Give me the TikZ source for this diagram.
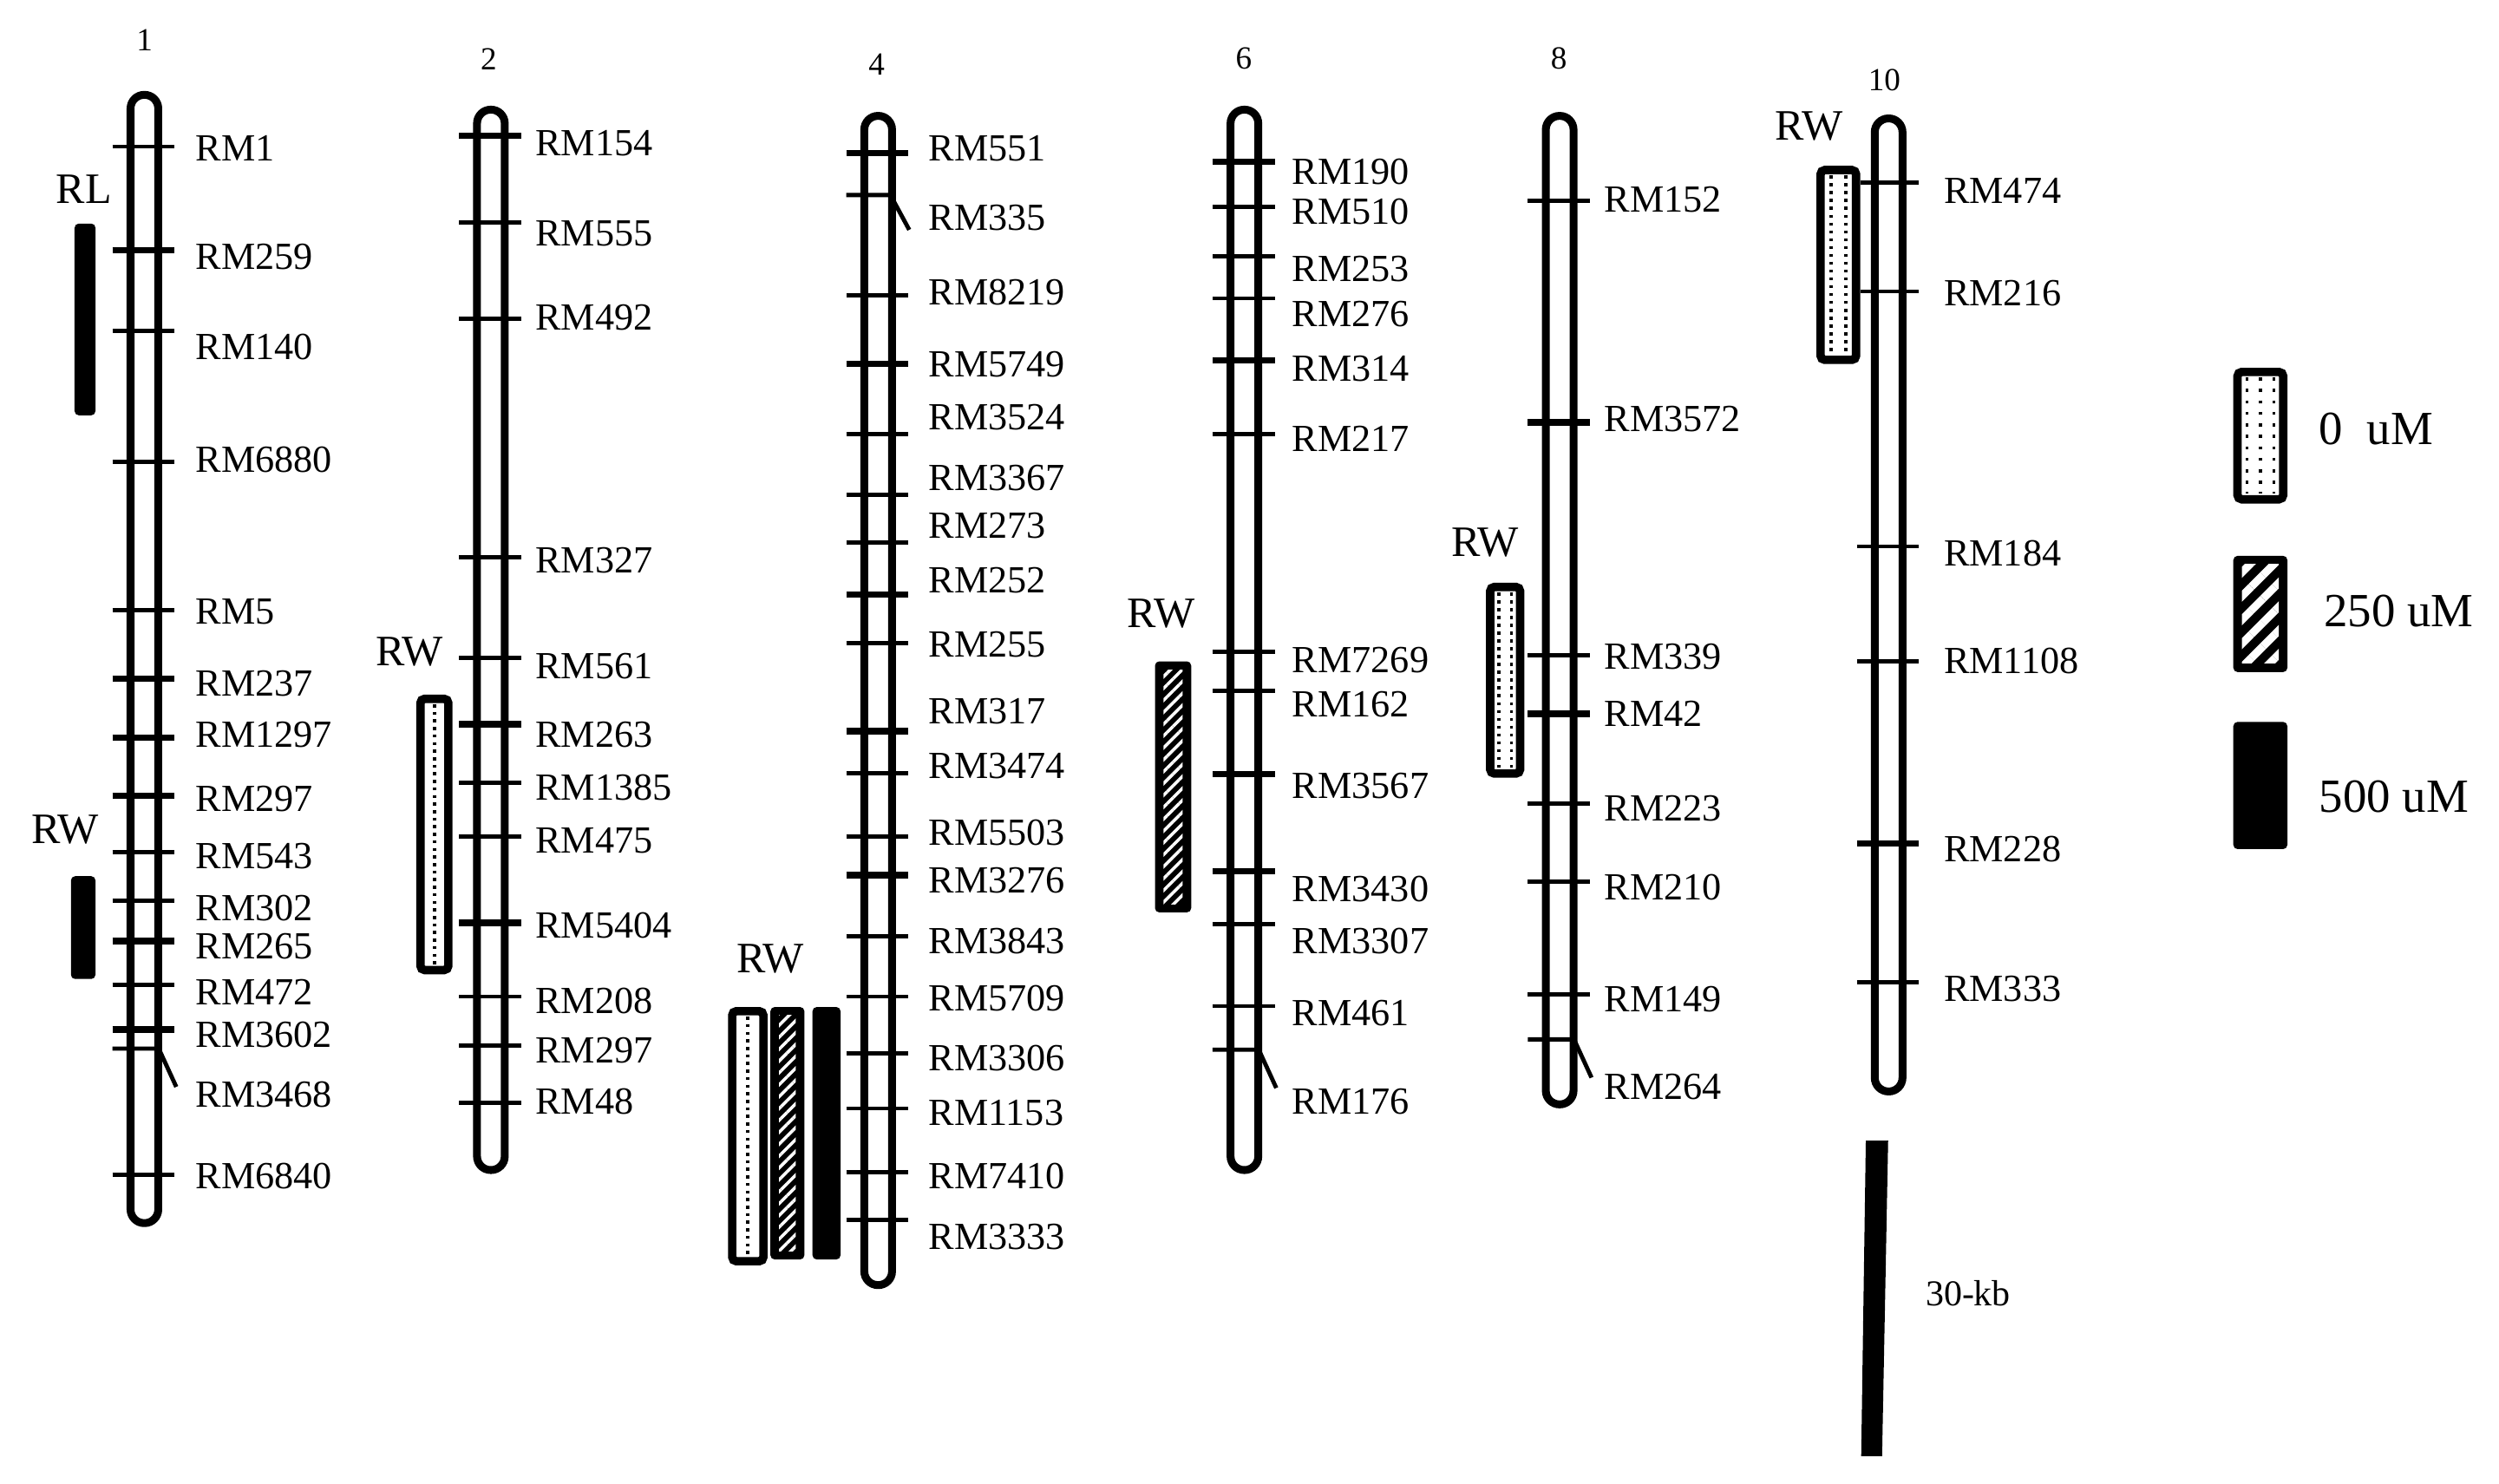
\documentclass[tikz,border=0pt]{standalone}
\usepackage{fontspec}
\setmainfont{Liberation Serif}
\usetikzlibrary{patterns.meta}

\tikzset{
	chrom/.style={line width=2.8pt,rounded corners=4.9pt},
	mtick/.style={line width=1.5pt},
	bigtick/.style={line width=2.3pt},
	mlabel/.style={anchor=west,inner sep=0pt,font=\fontsize{13.7}{14}\selectfont},
	chrnum/.style={inner sep=0pt,font=\fontsize{11.5}{12}\selectfont},
	qtl/.style={inner sep=0pt,font=\fontsize{15.5}{16}\selectfont},
	legtext/.style={anchor=west,inner sep=0pt,font=\fontsize{17}{18}\selectfont},
	boxline/.style={line width=3pt,rounded corners=1.5pt},
}

\newcommand{\chrbody}[3]{\draw[chrom] ({#1-8.7},{#2+2.5}) rectangle ({#1+8.7},{#3-2.5});}
\newcommand{\hooktick}[2]{\draw[mtick,line join=round] ({#1-20},#2) -- ({#1+9},#2) -- ({#1+20},{#2+24});}
\newcommand{\dotbox}[6]{%
	\fill[white] (#1,#2) rectangle (#3,#4);
	\foreach \k in {1,...,#5}
		\draw[line width=1.1pt,dash pattern=on 1.1pt off #6] ({#1+(#3-#1)*\k/(#5+1)},{#2+6}) -- ({#1+(#3-#1)*\k/(#5+1)},{#4-6});
	\draw[boxline] ({#1+2.6},{#2+2.6}) rectangle ({#3-2.6},{#4-2.6});}
\newcommand{\hatchbox}[6]{%
	\fill[rounded corners=1.5pt] (#1,#2) rectangle (#3,#4);
	\fill[pattern={Lines[angle=45,distance=#5,line width=#6]},pattern color=white] ({#1+5.4},{#2+5.4}) rectangle ({#3-5.4},{#4-5.4});}
\newcommand{\blackbox}[4]{\fill[rounded corners=1.5pt] (#1,#2) rectangle (#3,#4);}

\begin{document}
\begin{tikzpicture}[x=0.02cm,y=-0.02cm]
	\useasboundingbox (0,0) rectangle (1568,931);

	% chromosome 1
	\chrbody{90.6}{57}{770}
	\foreach \y/\s in {92/mtick,157/bigtick,207.5/mtick,289.6/mtick,382.7/mtick,426/bigtick,463/bigtick,499.3/bigtick,534.5/mtick,565/mtick,590.4/bigtick,617.8/mtick,646/bigtick,737.4/mtick}
		\draw[\s] (70.6,\y) -- (109.6,\y);
	\hooktick{90.6}{658}
	\foreach \y/\t in {93/RM1,161.2/RM259,217.9/RM140,288.7/RM6880,383.6/RM5,429/RM237,461/RM1297,501.4/RM297,537.3/RM543,570/RM302,594/RM265,622.3/RM472,649.2/RM3602,687/RM3468,738/RM6840}
		\node[mlabel] (c1\t) at (122.4,\y) {\t};
	\node[chrnum] (n1) at (90.7,25.4) {1};
	\blackbox{46.8}{140.3}{59.9}{260.6}
	\node[qtl] (rl1) at (52.6,118.5) {RL};
	\blackbox{44.5}{549.8}{59.9}{614.3}
	\node[qtl] (rw1) at (40.8,520.8) {RW};

	% chromosome 2
	\chrbody{308}{66.3}{736.7}
	\foreach \y/\s in {85.1/bigtick,139.4/mtick,200/mtick,349.9/mtick,412.9/mtick,454.4/bigtick,491/mtick,524.7/mtick,579/bigtick,625.3/mtick,656/mtick,691.8/mtick}
		\draw[\s] (288,\y) -- (327,\y);
	\foreach \y/\t in {89.6/RM154,146.3/RM555,199.4/RM492,351.7/RM327,418/RM561,461/RM263,494/RM1385,527.7/RM475,580.5/RM5404,628.3/RM208,659/RM297,691/RM48}
		\node[mlabel] (c2\t) at (335.6,\y) {\t};
	\node[chrnum] (n2) at (306.6,37) {2};
	\dotbox{261.2}{435.9}{283.9}{611.3}{1}{1.6pt}
	\node[qtl] (rw2) at (257,409) {RW};

	% chromosome 4
	\chrbody{551}{70.2}{808.9}
	\foreach \y/\s in {96.1/bigtick,185.1/mtick,228.4/bigtick,272.3/mtick,310.5/mtick,340.3/mtick,373.2/bigtick,403.6/mtick,458.8/bigtick,485/mtick,524.7/mtick,549.1/bigtick,587.4/mtick,625.3/mtick,661.1/mtick,695.5/mtick,735.7/mtick,765.6/mtick}
		\draw[\s] (531,\y) -- (570,\y);
	\draw[mtick,line join=round] (531,122.4) -- (558.7,122.4) -- (570.5,144.2);
	\foreach \y/\t in {93/RM551,136.7/RM335,183.6/RM8219,228.4/RM5749,261.8/RM3524,300/RM3367,330/RM273,364.2/RM252,404.5/RM255,446.4/RM317,480.5/RM3474,522.3/RM5503,552.2/RM3276,590.4/RM3843,626.2/RM5709,664.1/RM3306,698.4/RM1153,737.9/RM7410,776/RM3333}
		\node[mlabel] (c4\t) at (582.3,\y) {\t};
	\node[chrnum] (n4) at (550,40.3) {4};
	\dotbox{456.8}{631.9}{481.6}{794}{1}{1.6pt}
	\hatchbox{483.4}{631.9}{504.7}{790.3}{3pt}{1.1pt}
	\blackbox{509.8}{631.9}{527.4}{790.3}
	\node[qtl] (rw4) at (483.4,601.4) {RW};

	% chromosome 6
	\chrbody{780.8}{66.3}{736.7}
	\foreach \y/\s in {101.5/bigtick,129.9/mtick,160.6/mtick,187.2/mtick,226/bigtick,272.3/mtick,409/mtick,433.5/mtick,485.6/bigtick,546.8/bigtick,579.9/mtick,631.3/mtick}
		\draw[\s] (760.8,\y) -- (799.8,\y);
	\hooktick{780.8}{658.7}
	\foreach \y/\t in {108/RM190,132.8/RM510,168.7/RM253,197/RM276,231.4/RM314,275.3/RM217,414.4/RM7269,441.8/RM162,493/RM3567,558/RM3430,590.4/RM3307,635.7/RM461,691/RM176}
		\node[mlabel] (c6\t) at (810.5,\y) {\t};
	\node[chrnum] (n6) at (780.4,36.4) {6};
	\hatchbox{724.7}{415}{747.4}{572.5}{3pt}{1.1pt}
	\node[qtl] (rw6) at (728.4,385.1) {RW};

	% chromosome 8
	\chrbody{978.6}{70.2}{695.5}
	\foreach \y/\s in {126/mtick,265.1/bigtick,411.4/mtick,447.8/bigtick,504.4/mtick,553/mtick,623.8/mtick}
		\draw[\s] (958.6,\y) -- (997.6,\y);
	\hooktick{978.6}{652.2}
	\foreach \y/\t in {125.4/RM152,262.7/RM3572,412/RM339,447.8/RM42,507.4/RM223,556.6/RM210,626.8/RM149,682/RM264}
		\node[mlabel] (c8\t) at (1006.3,\y) {\t};
	\node[chrnum] (n8) at (978.1,36.4) {8};
	\dotbox{932.4}{365.7}{956.4}{488}{2}{1.7pt}
	\node[qtl] (rw8) at (931.9,340.3) {RW};

	% chromosome 10
	\chrbody{1185}{71.8}{687.4}
	\foreach \y/\s in {114.5/mtick,182.9/mtick,342.9/mtick,414.8/mtick,529.3/bigtick,616.3/mtick}
		\draw[\s] (1165,\y) -- (1204,\y);
	\foreach \y/\t in {119.7/RM474,184/RM216,347/RM184,414.8/RM1108,532.8/RM228,620.7/RM333}
		\node[mlabel] (c10\t) at (1219.4,\y) {\t};
	\node[chrnum] (n10) at (1182.3,50.3) {10};
	\dotbox{1139.7}{104.1}{1167.2}{228.4}{2}{1.7pt}
	\node[qtl] (rw10) at (1135.2,79.1) {RW};

	% legend and scale
	\dotbox{1401.3}{230.8}{1435.2}{315.9}{3}{3pt}
	\node[legtext] (l0) at (1454.9,269) {0~~uM};
	\hatchbox{1401.3}{348.8}{1435.2}{421.7}{6pt}{2.8pt}
	\node[legtext] (l250) at (1457.8,383.5) {250 uM};
	\blackbox{1401.3}{453}{1435.2}{532.8}
	\node[legtext] (l500) at (1454.9,499.8) {500 uM};

	\fill (1170.7,715.8) -- (1184.7,715.8) -- (1180.9,913.7) -- (1167.8,913.7) -- cycle;
	\node[anchor=west,inner sep=0pt,font=\fontsize{13}{14}\selectfont] (kb) at (1207.9,811.3) {30-kb};
\end{tikzpicture}
\end{document}
